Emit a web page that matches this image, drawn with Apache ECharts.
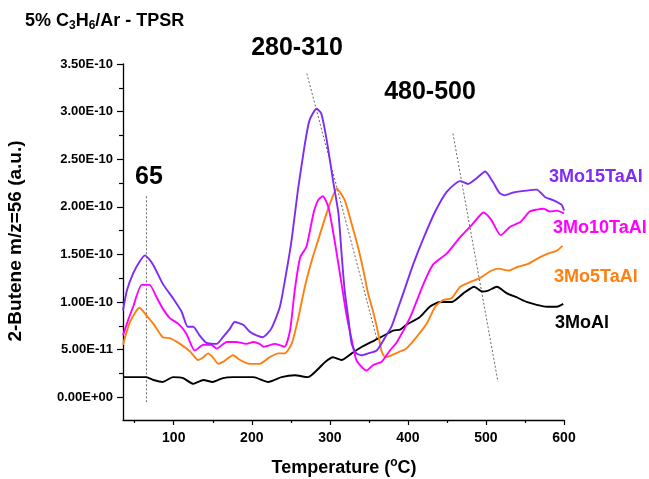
<!DOCTYPE html>
<html><head><meta charset="utf-8">
<script src="https://cdn.jsdelivr.net/npm/echarts@6/dist/echarts.min.js"></script>
<style>html,body{margin:0;padding:0;background:#fff}#c{width:649px;height:479px}</style>
</head><body><div id="c"></div>
<script>
// Temperature (°C), signal in units of 1e-10 a.u.
const s3Mo15TaAl = [[35,0.91],[40,1.12],[48,1.30],[56,1.42],[63,1.49],[73,1.40],[86,1.19],[99,1.04],[110,0.90],[118,0.74],[125,0.74],[133,0.65],[142,0.57],[155,0.56],[163,0.63],[172,0.72],[178,0.79],[189,0.76],[197,0.69],[206,0.65],[214,0.63],[225,0.72],[236,0.95],[244,1.30],[251,1.65],[259,2.17],[268,2.66],[274,2.91],[283,3.03],[289,2.98],[296,2.70],[304,2.28],[311,1.93],[315,1.51],[319,1.12],[324,0.81],[328,0.56],[334,0.46],[341,0.44],[349,0.46],[360,0.49],[371,0.63],[379,0.74],[388,0.95],[394,1.09],[407,1.40],[420,1.67],[435,1.95],[450,2.16],[467,2.27],[477,2.24],[488,2.30],[499,2.37],[509,2.26],[517,2.15],[524,2.12],[535,2.15],[552,2.17],[565,2.18],[576,2.10],[586,2.07],[597,2.02],[600,1.96]];
const s3Mo10TaAl = [[35,0.65],[42,0.82],[48,0.95],[59,1.18],[69,1.18],[78,1.05],[86,0.93],[95,0.83],[106,0.77],[116,0.67],[127,0.49],[138,0.55],[148,0.55],[155,0.51],[168,0.58],[180,0.58],[193,0.56],[202,0.58],[210,0.56],[215,0.53],[230,0.56],[242,0.53],[249,0.70],[255,1.12],[262,1.47],[270,1.58],[279,1.93],[285,2.07],[291,2.11],[298,2.00],[306,1.65],[315,1.19],[321,0.88],[328,0.60],[334,0.39],[343,0.30],[347,0.28],[356,0.34],[366,0.37],[377,0.49],[386,0.58],[403,0.84],[420,1.19],[432,1.39],[450,1.51],[467,1.68],[482,1.81],[497,1.94],[507,1.86],[519,1.70],[531,1.79],[544,1.84],[556,1.95],[565,1.97],[574,1.98],[582,1.95],[591,1.96],[600,1.93]];
const s3Mo5TaAl = [[35,0.55],[44,0.79],[56,0.94],[65,0.86],[74,0.77],[86,0.63],[95,0.62],[108,0.56],[121,0.48],[131,0.39],[138,0.42],[144,0.46],[150,0.42],[157,0.35],[163,0.37],[176,0.44],[185,0.39],[197,0.35],[210,0.35],[223,0.42],[234,0.46],[242,0.46],[251,0.56],[259,0.81],[268,1.16],[277,1.44],[285,1.65],[293,1.86],[300,2.03],[309,2.19],[319,2.07],[328,1.82],[336,1.58],[343,1.33],[349,1.09],[356,0.88],[362,0.67],[366,0.49],[371,0.42],[379,0.44],[390,0.48],[398,0.51],[411,0.63],[424,0.77],[435,0.95],[445,1.02],[456,1.04],[467,1.16],[480,1.21],[492,1.25],[505,1.32],[516,1.35],[529,1.33],[541,1.37],[554,1.40],[567,1.46],[580,1.51],[591,1.54],[598,1.59]];
const s3MoAl = [[35,0.21],[48,0.21],[65,0.21],[74,0.18],[86,0.16],[99,0.21],[112,0.20],[125,0.14],[138,0.18],[150,0.16],[163,0.20],[176,0.21],[189,0.21],[202,0.21],[221,0.16],[238,0.21],[255,0.23],[272,0.21],[283,0.28],[294,0.37],[304,0.42],[315,0.39],[328,0.46],[341,0.53],[358,0.60],[370,0.65],[381,0.70],[390,0.71],[398,0.76],[415,0.84],[428,0.95],[441,1.00],[456,1.00],[471,1.09],[485,1.16],[495,1.11],[503,1.12],[514,1.16],[527,1.09],[539,1.05],[552,1.00],[565,0.97],[578,0.95],[591,0.95],[599,0.98]];

const guide65 = [[65,2.11],[65,-0.05]];
const guide280 = [[270.5,3.40],[360,0.62]];
const guide480 = [[457.7,2.77],[515.4,0.16]];

const seriesNames = ['3Mo15TaAl','3Mo10TaAl','3Mo5TaAl','3MoAl'];
const seriesColors = ['#7F2AF5','#FF00FF','#FF7F0F','#000000'];
const annotations = ['65','280-310','480-500'];

const xTicks = [100,200,300,400,500,600];
const xMinor = [50,150,250,350,450,550];
const yTicks = [0,0.5,1.0,1.5,2.0,2.5,3.0,3.5];
const yTickLabels = ['0.00E+00','5.00E-11','1.00E-10','1.50E-10','2.00E-10','2.50E-10','3.00E-10','3.50E-10'];
const yMinor = [0.25,0.75,1.25,1.75,2.25,2.75,3.25];

const FF = '"Liberation Sans", Arial, sans-serif';
const X_MIN = 35, X_MAX = 600, Y_MIN = -0.24, Y_MAX = 3.5;
const gridPos = {left:123, right:85, top:64, bottom:59};

const chart = echarts.init(document.getElementById('c'), null, {renderer:'canvas'});
const datas = [s3Mo15TaAl, s3Mo10TaAl, s3Mo5TaAl, s3MoAl];
const series = datas.map((d,i)=>({
  type:'line', name:seriesNames[i], data:d, showSymbol:false, symbol:'none', smooth:0.2,
  lineStyle:{color:seriesColors[i], width:1.9}, itemStyle:{color:seriesColors[i]},
  xAxisIndex:0, yAxisIndex:0, z:3+(3-i), animation:false
}));
[guide65, guide280, guide480].forEach(g=>{
  series.push({type:'line', data:g, showSymbol:false, symbol:'none',
    lineStyle:{color:'#666', width:1, type:[2,2]}, xAxisIndex:0, yAxisIndex:0, z:2, animation:false});
});

chart.setOption({
  animation:false,
  grid:[Object.assign({}, gridPos), Object.assign({}, gridPos)],
  xAxis:[
    {type:'value', gridIndex:0, min:X_MIN, max:X_MAX, position:'bottom',
     axisLine:{show:true, onZero:false, lineStyle:{color:'#000', width:1.3}},
     axisTick:{show:true, customValues:xTicks, length:5, lineStyle:{color:'#000', width:1.2}},
     axisLabel:{show:true, customValues:xTicks, margin:11, color:'#000', fontSize:14, fontWeight:'bold', fontFamily:FF},
     splitLine:{show:false}},
    {type:'value', gridIndex:1, min:X_MIN, max:X_MAX, position:'bottom',
     axisLine:{show:false, onZero:false},
     axisTick:{show:true, customValues:xMinor, length:3, lineStyle:{color:'#000', width:1.2}},
     axisLabel:{show:false}, splitLine:{show:false}}
  ],
  yAxis:[
    {type:'value', gridIndex:0, min:Y_MIN, max:Y_MAX, position:'left',
     axisLine:{show:true, onZero:false, lineStyle:{color:'#000', width:1.3}},
     axisTick:{show:true, customValues:yTicks, length:6, lineStyle:{color:'#000', width:1.2}},
     axisLabel:{show:true, customValues:yTicks, margin:10, color:'#000', fontSize:13, fontWeight:'bold', fontFamily:FF,
       formatter:(v)=>{ const i = yTicks.findIndex(t=>Math.abs(t-v)<1e-6); return i>=0 ? yTickLabels[i] : ''; }},
     splitLine:{show:false}},
    {type:'value', gridIndex:1, min:Y_MIN, max:Y_MAX, position:'left',
     axisLine:{show:false, onZero:false},
     axisTick:{show:true, customValues:yMinor, length:4, lineStyle:{color:'#000', width:1.2}},
     axisLabel:{show:false}, splitLine:{show:false}}
  ],
  series:series,
  graphic:[
    {type:'text', x:25, y:21, z:10, style:{text:'5% C{s|3}H{s|6}/Ar - TPSR', fill:'#000', fontSize:18, fontWeight:'bold', fontFamily:FF, verticalAlign:'middle',
      rich:{s:{fontSize:12, fontWeight:'bold', fontFamily:FF, fill:'#000', padding:[10,0,0,0]}}}},
    {type:'text', x:344, y:468, z:10, style:{text:'Temperature ({o|o}C)', fill:'#000', fontSize:18, fontWeight:'bold', fontFamily:FF, align:'center', verticalAlign:'middle',
      rich:{o:{fontSize:12, fontWeight:'bold', fontFamily:FF, fill:'#000', padding:[0,0,10,0]}}}},
    {type:'text', x:16, y:241, rotation:Math.PI/2, z:10, style:{text:'2-Butene m/z=56 (a.u.)', fill:'#000', fontSize:19, fontWeight:'bold', fontFamily:FF, align:'center', verticalAlign:'middle'}},
    {type:'text', x:149, y:177, z:10, style:{text:annotations[0], fill:'#000', fontSize:25, fontWeight:'bold', fontFamily:FF, align:'center', verticalAlign:'middle'}},
    {type:'text', x:297, y:48, z:10, style:{text:annotations[1], fill:'#000', fontSize:25, fontWeight:'bold', fontFamily:FF, align:'center', verticalAlign:'middle'}},
    {type:'text', x:430, y:92, z:10, style:{text:annotations[2], fill:'#000', fontSize:25, fontWeight:'bold', fontFamily:FF, align:'center', verticalAlign:'middle'}},
    {type:'text', x:549, y:177, z:10, style:{text:seriesNames[0], fill:seriesColors[0], fontSize:18, fontWeight:'bold', fontFamily:FF, verticalAlign:'middle'}},
    {type:'text', x:553, y:228, z:10, style:{text:seriesNames[1], fill:seriesColors[1], fontSize:18, fontWeight:'bold', fontFamily:FF, verticalAlign:'middle'}},
    {type:'text', x:554, y:277, z:10, style:{text:seriesNames[2], fill:seriesColors[2], fontSize:18, fontWeight:'bold', fontFamily:FF, verticalAlign:'middle'}},
    {type:'text', x:555, y:323, z:10, style:{text:seriesNames[3], fill:seriesColors[3], fontSize:18, fontWeight:'bold', fontFamily:FF, verticalAlign:'middle'}}
  ]
});
</script></body></html>
